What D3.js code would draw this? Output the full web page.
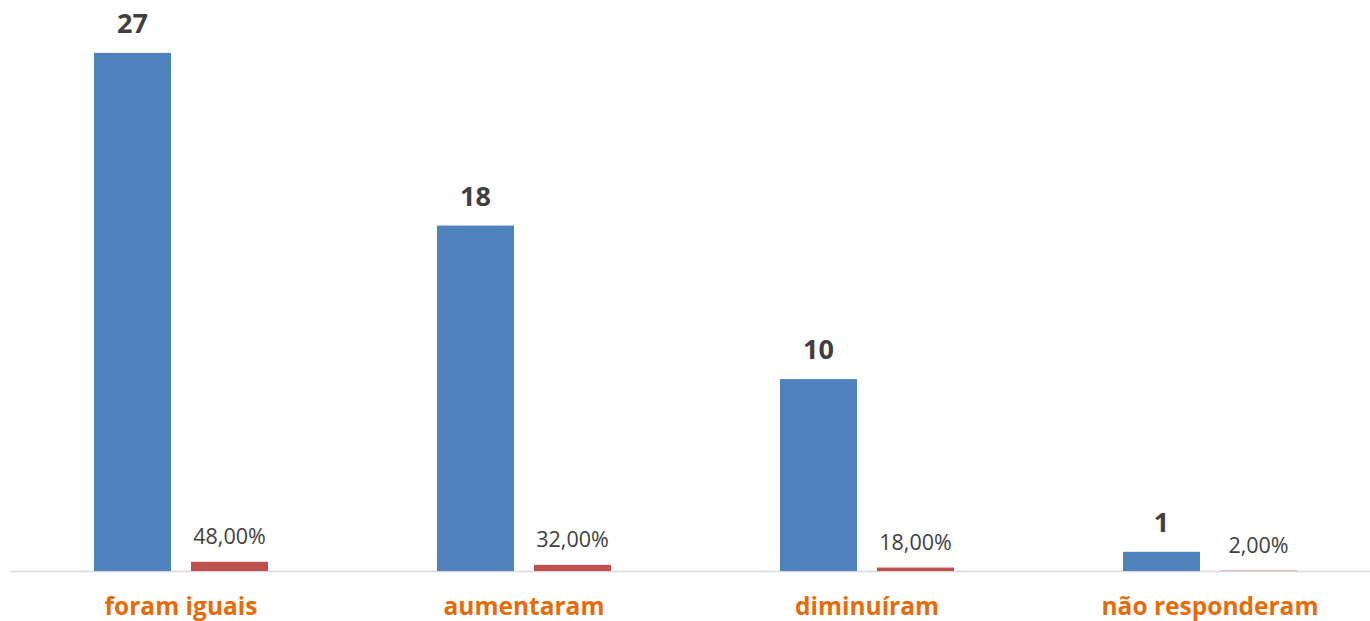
<!DOCTYPE html>
<html lang="pt">
  <head>
    <meta charset="utf-8">
    <script type="text/javascript" src="https://cdn.jsdelivr.net/npm/d3@7/dist/d3.min.js"></script>
    <style>
      body { margin: 0; background: #fff; }
      svg { display: block; font-family: "Open Sans", sans-serif; }
    </style>
  </head>
  <body>
    <svg id="chart"></svg>
  </body>
  <script type="text/javascript">

    var categories = ['foram iguais', 'aumentaram', 'diminuíram', 'não responderam'];
    var counts = [27, 18, 10, 1];
    var percents = [0.48, 0.32, 0.18, 0.02];
    var series = ['count', 'pct'];

    var width = 1370;
    var height = 621;
    var baseline = 571;

    var svg = d3.select('#chart')
      .attr('width', width)
      .attr('height', height);

    var x0 = d3.scaleBand()
      .domain(categories)
      .range([9.5, 1381.5]);

    var x1 = d3.scaleBand()
      .domain(series)
      .range([84.5, 258.5])
      .paddingInner(20 / 97);

    var y = d3.scaleLinear()
      .domain([0, 30])
      .range([baseline, baseline - 30 * 19.19]);

    var data = categories.map(function(c, i) {
      return { cat: c, count: counts[i], pct: percents[i] };
    });

    // axis line
    svg.append('line')
      .attr('x1', 10)
      .attr('x2', width)
      .attr('y1', baseline + 0.5)
      .attr('y2', baseline + 0.5)
      .attr('stroke', '#d9d9d9')
      .attr('stroke-width', 1.5);

    var groups = svg.selectAll('g.cat')
      .data(data).enter()
      .append('g')
      .attr('class', 'cat')
      .attr('transform', function(d) { return 'translate(' + x0(d.cat) + ',0)'; });

    groups.append('rect')
      .attr('x', x1('count'))
      .attr('y', function(d) { return y(d.count); })
      .attr('width', x1.bandwidth())
      .attr('height', function(d) { return baseline - y(d.count); })
      .attr('fill', '#4f81bd');

    groups.append('rect')
      .attr('x', x1('pct'))
      .attr('y', function(d) { return y(d.pct); })
      .attr('width', x1.bandwidth())
      .attr('height', function(d) { return baseline - y(d.pct); })
      .attr('fill', '#c0504d');

    groups.append('text')
      .text(function(d) { return d.count; })
      .attr('x', x1('count') + x1.bandwidth() / 2)
      .attr('y', function(d) { return y(d.count) - 20; })
      .attr('text-anchor', 'middle')
      .attr('font-size', 27)
      .attr('font-weight', 'bold')
      .attr('fill', '#404040');

    groups.append('text')
      .text(function(d) { return (d.pct * 100).toFixed(2).replace('.', ',') + '%'; })
      .attr('x', x1('pct') + x1.bandwidth() / 2)
      .attr('y', function(d) { return y(d.pct) - 18; })
      .attr('text-anchor', 'middle')
      .attr('font-size', 21.5)
      .attr('fill', '#404040');

    // category labels (the reference crops their descenders slightly)
    groups.append('text')
      .text(function(d) { return d.cat; })
      .attr('x', x0.bandwidth() / 2)
      .attr('y', 615)
      .attr('text-anchor', 'middle')
      .attr('font-size', 24.5)
      .attr('font-weight', 'bold')
      .attr('fill', '#e46c0a');

  </script>
</html>
